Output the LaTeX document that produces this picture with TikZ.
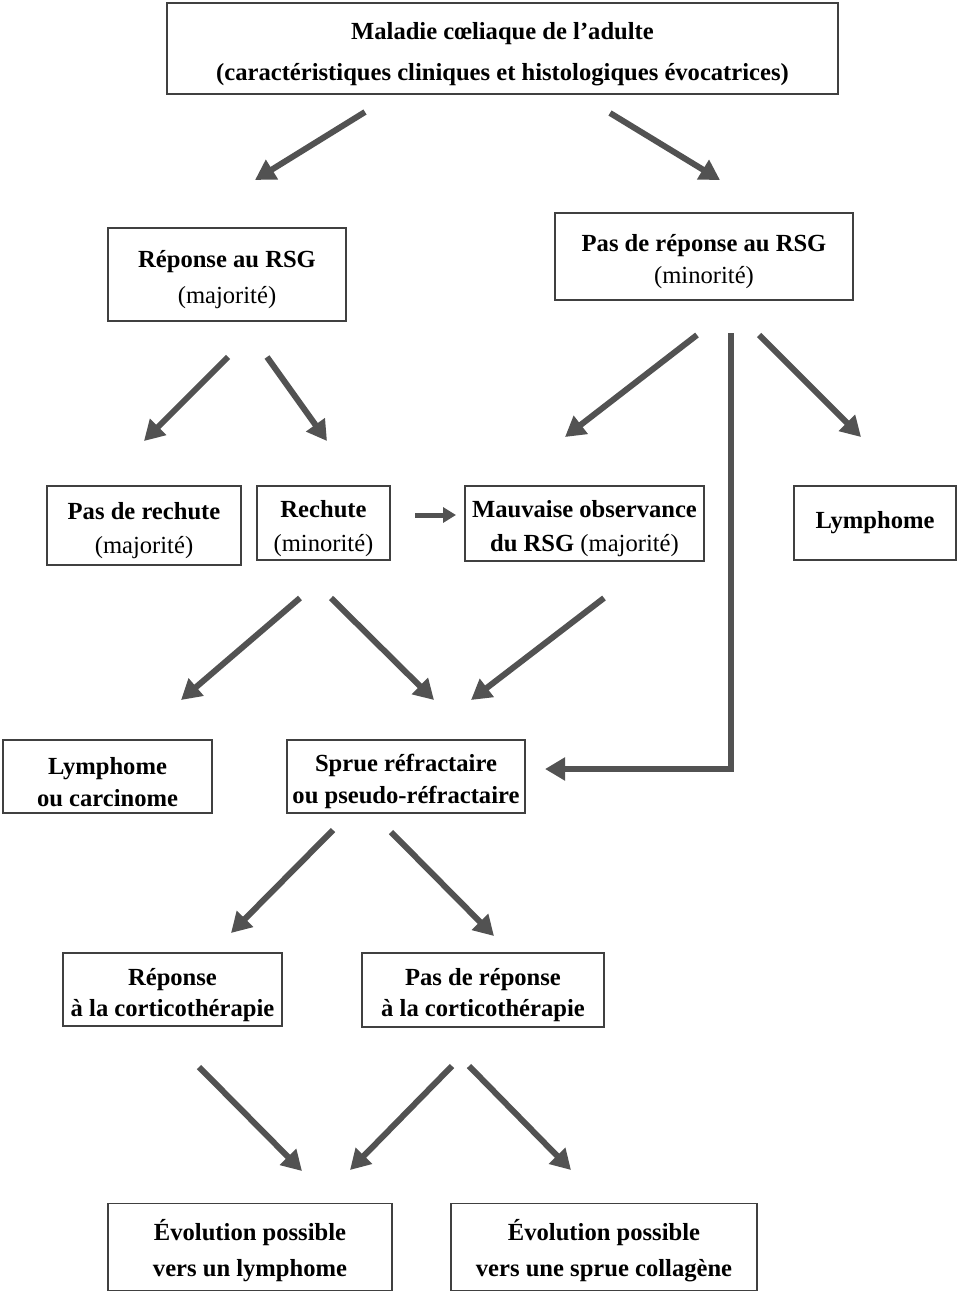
\documentclass[tikz,border=0pt]{standalone}
\usepackage{fontspec}
\setmainfont{Liberation Serif}
\usetikzlibrary{arrows.meta}
\newcommand\tpush{\rule{0pt}{28pt}}
\begin{document}
\begin{tikzpicture}[x=1pt,y=-1pt,
  box/.style={draw=black!75, line width=1.4pt, rectangle, inner sep=0pt, align=center, text=black},
  fl/.style={line width=6pt, draw=black!68, -{Triangle[length=20pt,width=22pt]}},
  sfl/.style={line width=5pt, draw=black!68, -{Triangle[length=13pt,width=15pt]}},
  ls/.code={\tikzset{font=\fontsize{24.6}{#1}\selectfont}}
]
\useasboundingbox (0,0) rectangle (957,1292);
% boxes
\node[box, ls=41, minimum width=671pt, minimum height=91pt] (top) at (502.5,48.5)
  {\tpush\textbf{Maladie cœliaque de l’adulte}\\\textbf{(caractéristiques cliniques et histologiques évocatrices)}};
\node[box, ls=36, minimum width=238pt, minimum height=93pt] (rep) at (227,274.5)
  {\tpush\textbf{Réponse au RSG}\\(majorité)};
\node[box, ls=32, minimum width=298pt, minimum height=87pt] (nrep) at (704,256.5)
  {\tpush\textbf{Pas de réponse au RSG}\\(minorité)};
\node[box, ls=34, minimum width=194pt, minimum height=79pt] (pasrech) at (144,525.5)
  {\tpush\textbf{Pas de rechute}\\(majorité)};
\node[box, ls=34, minimum width=133pt, minimum height=74pt] (rech) at (323.5,523)
  {\tpush\textbf{Rechute}\\(minorité)};
\node[box, ls=34, minimum width=239pt, minimum height=75pt] (mauv) at (584.5,523.5)
  {\tpush\textbf{Mauvaise observance}\\\textbf{du RSG} (majorité)};
\node[box, ls=34, minimum width=162pt, minimum height=74pt] (lymph) at (875,523)
  {\textbf{Lymphome}};
\node[box, ls=32, minimum width=209pt, minimum height=73pt] (lymcar) at (107.5,776.5)
  {\tpush\textbf{Lymphome}\\\textbf{ou carcinome}};
\node[box, ls=32, minimum width=238pt, minimum height=73pt] (sprue) at (406,776.5)
  {\tpush\textbf{Sprue réfractaire}\\\textbf{ou pseudo-réfractaire}};
\node[box, ls=31, minimum width=219pt, minimum height=73pt] (repc) at (172.5,989.5)
  {\tpush\textbf{Réponse}\\\textbf{à la corticothérapie}};
\node[box, ls=31, minimum width=242pt, minimum height=74pt] (nrepc) at (483,990)
  {\tpush\textbf{Pas de réponse}\\\textbf{à la corticothérapie}};
\node[box, ls=36, minimum width=284pt, minimum height=87pt] (evoa) at (250,1247)
  {\tpush\textbf{Évolution possible}\\\textbf{vers un lymphome}};
\node[box, ls=36, minimum width=306pt, minimum height=87pt] (evob) at (604,1247)
  {\tpush\textbf{Évolution possible}\\\textbf{vers une sprue collagène}};
% arrow end points
\coordinate (a1s) at (365,112);  \coordinate (a1e) at (255,180);
\coordinate (a2s) at (610,113);  \coordinate (a2e) at (720,180);
\coordinate (a3s) at (228,357);  \coordinate (a3e) at (144,441);
\coordinate (a4s) at (267,357);  \coordinate (a4e) at (327,441);
\coordinate (a5s) at (697,335);  \coordinate (a5e) at (565,437);
\coordinate (a6s) at (759,335);  \coordinate (a6e) at (861,437);
\coordinate (a7s) at (731,333);  \coordinate (a7k) at (731,769); \coordinate (a7e) at (545,769);
\coordinate (a8s) at (415,515);  \coordinate (a8e) at (456,515);
\coordinate (a9s) at (300,598);  \coordinate (a9e) at (181,700);
\coordinate (a10s) at (331,598); \coordinate (a10e) at (434,700);
\coordinate (a11s) at (604,598); \coordinate (a11e) at (471,700);
\coordinate (a12s) at (333,830); \coordinate (a12e) at (231,933);
\coordinate (a13s) at (391,832); \coordinate (a13e) at (494,936);
\coordinate (a14s) at (199,1067); \coordinate (a14e) at (302,1171);
\coordinate (a15s) at (452,1066); \coordinate (a15e) at (350,1170);
\coordinate (a16s) at (469,1066); \coordinate (a16e) at (571,1170);
% arrows
\draw[fl] (a1s) -- (a1e);
\draw[fl] (a2s) -- (a2e);
\draw[fl] (a3s) -- (a3e);
\draw[fl] (a4s) -- (a4e);
\draw[fl] (a5s) -- (a5e);
\draw[fl] (a6s) -- (a6e);
\draw[fl, line join=miter] (a7s) -- (a7k) -- (a7e);
\draw[sfl] (a8s) -- (a8e);
\draw[fl] (a9s) -- (a9e);
\draw[fl] (a10s) -- (a10e);
\draw[fl] (a11s) -- (a11e);
\draw[fl] (a12s) -- (a12e);
\draw[fl] (a13s) -- (a13e);
\draw[fl] (a14s) -- (a14e);
\draw[fl] (a15s) -- (a15e);
\draw[fl] (a16s) -- (a16e);
\end{tikzpicture}
\end{document}
